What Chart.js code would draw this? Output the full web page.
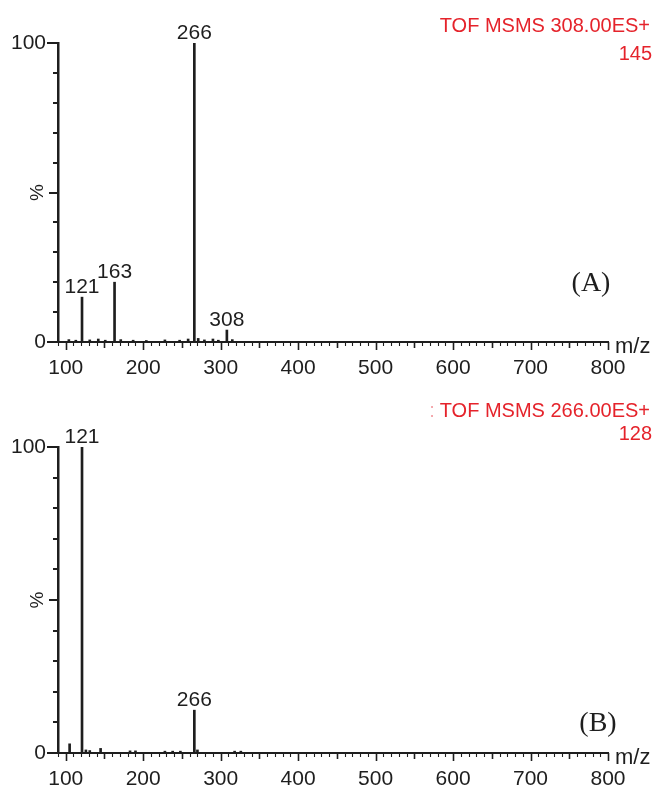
<!DOCTYPE html>
<html>
<head>
<meta charset="utf-8">
<script src="https://cdn.jsdelivr.net/npm/chart.js@4.4.1/dist/chart.umd.min.js"></script>
<style>
  html, body { margin: 0; padding: 0; background: #fff; }
  canvas { display: block; }
</style>
</head>
<body>
<canvas id="chartA" width="659" height="385"></canvas>
<canvas id="chartB" width="659" height="404"></canvas>
<script>
// SPECTRUM (A) - TOF MSMS 308.00ES+
const mzA = [104, 113, 121, 131, 142, 151, 163, 171, 187, 204, 228, 247, 258, 266, 271, 279, 290, 297, 308, 315];
const intA = [0.8, 0.6, 15, 0.7, 1.0, 0.6, 20, 0.8, 0.6, 0.5, 0.7, 0.6, 1.0, 100, 1.2, 0.7, 1.0, 0.6, 4, 0.8];
const peaksA = [121, 163, 266, 308];

// SPECTRUM (B) - TOF MSMS 266.00ES+
const mzB = [105, 121, 126, 131, 145, 183, 190, 228, 238, 248, 266, 270, 318, 326];
const intB = [3, 100, 1.0, 0.8, 1.5, 0.7, 0.7, 0.6, 0.6, 0.6, 14, 1.0, 0.6, 0.6];
const peaksB = [121, 266];

// AXIS
const xMin = 90, xMax = 800;
const xLabels = [100, 200, 300, 400, 500, 600, 700, 800];
const yLabels = [0, 100];

const FONT = "'Liberation Sans', Arial, sans-serif";
const RED = '#e5232b';
const INK = '#1e1e1e';

// DRAW TICKS, PEAK LABELS, HEADER TEXT
const spectrumDecor = {
  id: 'spectrumDecor',
  afterDraw(chart, args, opts) {
    const ctx = chart.ctx;
    const xs = chart.scales.x, ys = chart.scales.y;
    const area = chart.chartArea;
    ctx.save();
    ctx.strokeStyle = INK;

    // x tick marks (down)
    xs.ticks.forEach(t => {
      const v = t.value;
      if (v % 10 !== 0) return;
      const len = v % 100 === 0 ? 8 : (v % 50 === 0 ? 6 : 4);
      const px = Math.round(xs.getPixelForValue(v)) + 0.5;
      ctx.lineWidth = v % 50 === 0 ? 1.6 : 1.1;
      ctx.beginPath();
      ctx.moveTo(px, area.bottom);
      ctx.lineTo(px, area.bottom + len);
      ctx.stroke();
    });

    // y tick marks (left)
    for (let v = 0; v <= 100; v += 10) {
      const len = (v === 0 || v === 100) ? 11 : (v === 50 ? 9 : 5);
      const py = Math.round(ys.getPixelForValue(v));
      ctx.lineWidth = 2;
      ctx.beginPath();
      ctx.moveTo(area.left, py);
      ctx.lineTo(area.left - len, py);
      ctx.stroke();
    }

    // % label rotated at 50
    ctx.fillStyle = INK;
    ctx.font = '19px ' + FONT;
    ctx.textAlign = 'center';
    ctx.textBaseline = 'middle';
    ctx.save();
    ctx.translate(area.left - 20, ys.getPixelForValue(50));
    ctx.rotate(-Math.PI / 2);
    ctx.fillText('%', 0, 0);
    ctx.restore();

    // peak labels
    const meta = chart.getDatasetMeta(0);
    const ds = chart.data.datasets[0].data;
    ctx.font = '21px ' + FONT;
    ctx.textAlign = 'center';
    ctx.textBaseline = 'alphabetic';
    meta.data.forEach((el, i) => {
      if (opts.peaks.indexOf(ds[i].x) === -1) return;
      ctx.fillText(String(ds[i].x), el.x, el.y - 4);
    });

    // m/z
    ctx.font = '22px ' + FONT;
    ctx.textAlign = 'left';
    ctx.fillText('m/z', area.right + 7, area.bottom + 11);

    // panel letter
    ctx.font = '28px "Liberation Serif", serif';
    ctx.textAlign = 'center';
    ctx.fillText(opts.letter, opts.letterX, opts.letterY);

    // red header
    ctx.font = '20px ' + FONT;
    ctx.textAlign = 'right';
    ctx.fillStyle = RED;
    ctx.fillText(opts.title, 650, opts.titleY);
    ctx.fillText(opts.count, 652, opts.countY);
    if (opts.prefix) {
      const w = ctx.measureText(opts.title).width;
      ctx.fillStyle = '#f4a6ab';
      ctx.fillText(opts.prefix, 650 - w - 5, opts.titleY);
    }
    ctx.restore();
  }
};

function makeSpectrum(canvasId, mz, inten, peaks, pad, xHeight, decor) {
  const ctx = document.getElementById(canvasId).getContext('2d');
  return new Chart(ctx, {
    type: 'bar',
    data: {
      datasets: [{
        data: mz.map((m, i) => ({ x: m, y: inten[i] })),
        backgroundColor: INK,
        borderWidth: 0,
        barThickness: 2,
        grouped: false
      }]
    },
    options: {
      responsive: false,
      animation: false,
      events: [],
      layout: { padding: pad },
      plugins: {
        legend: { display: false },
        tooltip: { enabled: false },
        spectrumDecor: Object.assign({ peaks: peaks }, decor)
      },
      scales: {
        x: {
          type: 'linear',
          min: xMin,
          max: xMax,
          offset: false,
          grid: { display: true, drawOnChartArea: false, drawTicks: false, offset: false },
          border: { display: true, color: INK, width: 2 },
          ticks: {
            stepSize: 10,
            autoSkip: false,
            maxRotation: 0,
            padding: 14,
            color: INK,
            font: { family: FONT, size: 21 },
            callback: v => xLabels.indexOf(v) !== -1 ? String(v) : ''
          },
          afterFit: s => { s.height = xHeight; s.paddingLeft = 0; s.paddingRight = 0; }
        },
        y: {
          min: 0,
          max: 100,
          grid: { display: true, drawOnChartArea: false, drawTicks: false },
          border: { display: true, color: INK, width: 2.5 },
          ticks: {
            stepSize: 10,
            padding: 12,
            color: INK,
            font: { family: FONT, size: 21 },
            callback: v => yLabels.indexOf(v) !== -1 ? String(v) : ''
          },
          afterFit: s => { s.width = 58; s.paddingTop = 0; s.paddingBottom = 0; }
        }
      }
    },
    plugins: [spectrumDecor]
  });
}

makeSpectrum('chartA', mzA, intA, peaksA, { top: 43, right: 51, left: 0, bottom: 0 }, 43, {
  letter: '(A)', letterX: 591, letterY: 291,
  title: 'TOF MSMS 308.00ES+', titleY: 32, count: '145', countY: 60
});
makeSpectrum('chartB', mzB, intB, peaksB, { top: 62, right: 51, left: 0, bottom: 0 }, 36, {
  letter: '(B)', letterX: 598, letterY: 346,
  title: 'TOF MSMS 266.00ES+', titleY: 32, count: '128', countY: 55, prefix: ':'
});
</script>
</body>
</html>
